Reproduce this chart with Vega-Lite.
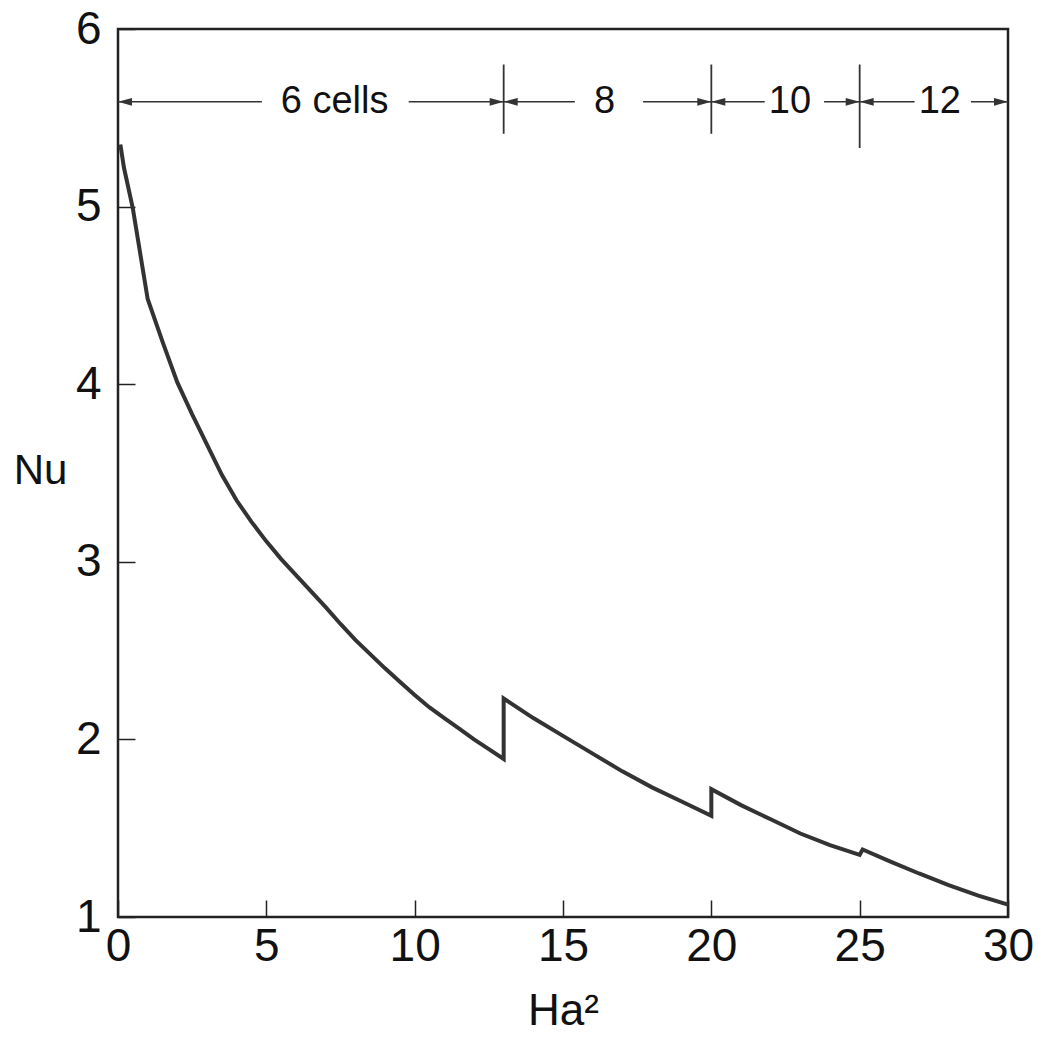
{
  "$schema": "https://vega.github.io/schema/vega-lite/v6.json",
  "width": 890,
  "height": 888,
  "autosize": "none",
  "padding": {"left": 118, "top": 29, "right": 30, "bottom": 123},
  "background": "white",
  "config": {
    "font": "Liberation Sans",
    "view": {"stroke": "#222", "strokeWidth": 2.5},
    "axis": {
      "domain": false,
      "grid": false,
      "tickColor": "#222",
      "tickWidth": 1.5,
      "labelColor": "#111",
      "titleColor": "#111",
      "labelFont": "Liberation Sans",
      "titleFont": "Liberation Sans",
      "labelFontWeight": "normal",
      "titleFontWeight": "normal",
      "labelFlush": false,
      "labelOverlap": false,
      "labelBound": false
    }
  },
  "datasets": {
    "curve": [
      {"i": 0, "x": 0.08, "y": 5.35},
      {"i": 1, "x": 0.2, "y": 5.22},
      {"i": 2, "x": 0.5, "y": 4.99},
      {"i": 3, "x": 1.0, "y": 4.48},
      {"i": 4, "x": 1.5, "y": 4.24},
      {"i": 5, "x": 2.0, "y": 4.01},
      {"i": 6, "x": 2.5, "y": 3.83},
      {"i": 7, "x": 3.0, "y": 3.66},
      {"i": 8, "x": 3.5, "y": 3.49},
      {"i": 9, "x": 4.0, "y": 3.345},
      {"i": 10, "x": 4.5, "y": 3.225},
      {"i": 11, "x": 5.0, "y": 3.115},
      {"i": 12, "x": 5.5, "y": 3.015},
      {"i": 13, "x": 6.0, "y": 2.925},
      {"i": 14, "x": 6.5, "y": 2.835},
      {"i": 15, "x": 7.0, "y": 2.745},
      {"i": 16, "x": 7.5, "y": 2.65},
      {"i": 17, "x": 8.0, "y": 2.56},
      {"i": 18, "x": 8.5, "y": 2.48},
      {"i": 19, "x": 9.0, "y": 2.4},
      {"i": 20, "x": 9.5, "y": 2.325},
      {"i": 21, "x": 10.0, "y": 2.25},
      {"i": 22, "x": 10.5, "y": 2.18},
      {"i": 23, "x": 11.0, "y": 2.12},
      {"i": 24, "x": 11.5, "y": 2.06},
      {"i": 25, "x": 12.0, "y": 2.0},
      {"i": 26, "x": 12.5, "y": 1.945},
      {"i": 27, "x": 13.0, "y": 1.89},
      {"i": 28, "x": 13.0, "y": 2.23},
      {"i": 29, "x": 14, "y": 2.12},
      {"i": 30, "x": 15, "y": 2.02},
      {"i": 31, "x": 16, "y": 1.92},
      {"i": 32, "x": 17, "y": 1.82},
      {"i": 33, "x": 18, "y": 1.73},
      {"i": 34, "x": 19, "y": 1.65},
      {"i": 35, "x": 20, "y": 1.57},
      {"i": 36, "x": 20, "y": 1.72},
      {"i": 37, "x": 21, "y": 1.63},
      {"i": 38, "x": 22, "y": 1.55},
      {"i": 39, "x": 23, "y": 1.47},
      {"i": 40, "x": 24, "y": 1.405},
      {"i": 41, "x": 25, "y": 1.35},
      {"i": 42, "x": 25.1, "y": 1.38},
      {"i": 43, "x": 26, "y": 1.315},
      {"i": 44, "x": 27, "y": 1.245},
      {"i": 45, "x": 28, "y": 1.18},
      {"i": 46, "x": 29, "y": 1.12},
      {"i": 47, "x": 30, "y": 1.07}
    ],
    "bars": [
      {"x": 13, "y": 5.41, "y2": 5.8},
      {"x": 20, "y": 5.41, "y2": 5.8},
      {"x": 25, "y": 5.33, "y2": 5.8}
    ],
    "segs": [
      {"x": 0, "x2": 4.85, "y": 5.59},
      {"x": 9.8, "x2": 13, "y": 5.59},
      {"x": 13, "x2": 15.4, "y": 5.59},
      {"x": 17.7, "x2": 20, "y": 5.59},
      {"x": 20, "x2": 21.8, "y": 5.59},
      {"x": 23.8, "x2": 25, "y": 5.59},
      {"x": 25, "x2": 26.85, "y": 5.59},
      {"x": 28.75, "x2": 30, "y": 5.59}
    ],
    "heads": [
      {"x": 0, "y": 5.59, "dir": "left"},
      {"x": 13, "y": 5.59, "dir": "right"},
      {"x": 13, "y": 5.59, "dir": "left"},
      {"x": 20, "y": 5.59, "dir": "right"},
      {"x": 20, "y": 5.59, "dir": "left"},
      {"x": 25, "y": 5.59, "dir": "right"},
      {"x": 25, "y": 5.59, "dir": "left"},
      {"x": 30, "y": 5.59, "dir": "right"}
    ],
    "labels": [
      {"x": 7.3, "y": 5.59, "text": "6 cells"},
      {"x": 16.4, "y": 5.59, "text": "8"},
      {"x": 22.65, "y": 5.59, "text": "10"},
      {"x": 27.7, "y": 5.59, "text": "12"}
    ]
  },
  "layer": [
    {
      "data": {"name": "curve"},
      "mark": {"type": "line", "color": "#333", "strokeWidth": 4, "strokeJoin": "miter", "clip": true},
      "encoding": {
        "x": {
          "field": "x", "type": "quantitative",
          "scale": {"domain": [0, 30], "nice": false},
          "axis": {
            "values": [0, 5, 10, 15, 20, 25, 30],
            "format": "d",
            "title": "Ha²",
            "tickSize": -17,
            "labelPadding": 24,
            "labelFontSize": 46,
            "titleFontSize": 44,
            "titleY": 107,
            "titleBaseline": "alphabetic"
          }
        },
        "y": {
          "field": "y", "type": "quantitative",
          "scale": {"domain": [1, 6], "nice": false, "zero": false},
          "axis": {
            "values": [1, 2, 3, 4, 5, 6],
            "format": "d",
            "title": "Nu",
            "tickSize": -17,
            "labelPadding": 34,
            "labelFontSize": 46,
            "titleFontSize": 42,
            "titleAngle": 0,
            "titleX": -78,
            "titleY": 441,
            "titleAlign": "center",
            "titleBaseline": "middle"
          }
        },
        "order": {"field": "i", "type": "quantitative"}
      }
    },
    {
      "data": {"name": "bars"},
      "mark": {"type": "rule", "color": "#333", "strokeWidth": 1.8},
      "encoding": {
        "x": {"field": "x", "type": "quantitative"},
        "y": {"field": "y", "type": "quantitative"},
        "y2": {"field": "y2"}
      }
    },
    {
      "data": {"name": "segs"},
      "mark": {"type": "rule", "color": "#333", "strokeWidth": 1.6},
      "encoding": {
        "x": {"field": "x", "type": "quantitative"},
        "x2": {"field": "x2"},
        "y": {"field": "y", "type": "quantitative"}
      }
    },
    {
      "data": {"name": "heads"},
      "mark": {"type": "point", "filled": true, "color": "#333", "opacity": 1, "size": 196},
      "encoding": {
        "x": {"field": "x", "type": "quantitative"},
        "y": {"field": "y", "type": "quantitative"},
        "shape": {
          "field": "dir", "type": "nominal",
          "scale": {"domain": ["left", "right"], "range": ["M0,0L2,-0.55L2,0.55Z", "M0,0L-2,-0.55L-2,0.55Z"]},
          "legend": null
        }
      }
    },
    {
      "data": {"name": "labels"},
      "mark": {"type": "text", "fontSize": 38, "color": "#111", "baseline": "middle", "align": "center", "font": "Liberation Sans"},
      "encoding": {
        "x": {"field": "x", "type": "quantitative"},
        "y": {"field": "y", "type": "quantitative"},
        "text": {"field": "text"}
      }
    }
  ]
}
